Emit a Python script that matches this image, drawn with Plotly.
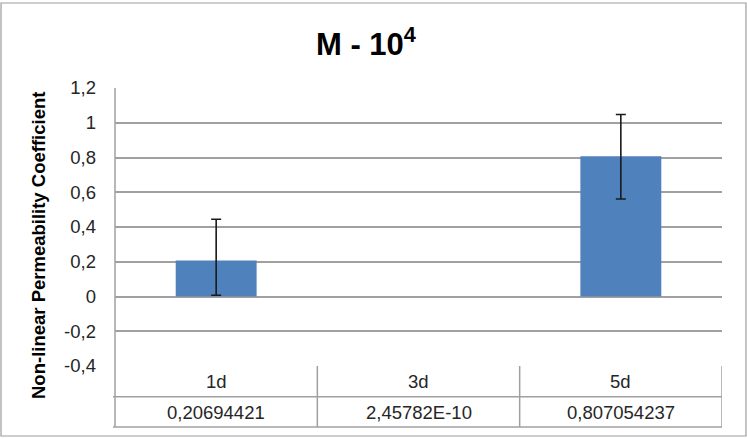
import plotly.graph_objects as go

categories = ["1d", "3d", "5d"]
values = [0.20694421, 2.45782e-10, 0.807054237]
err_plus = [0.238, None, 0.240]
err_minus = [0.200, None, 0.246]
tick_vals = [-0.4, -0.2, 0, 0.2, 0.4, 0.6, 0.8, 1.0, 1.2]
tick_text = ["-0,4", "-0,2", "0", "0,2", "0,4", "0,6", "0,8", "1", "1,2"]
title_text = "M - 10<sup>4</sup>"
y_title = "Non-linear Permeability Coefficient"


def excel_fmt(v):
    return f"{v:.9g}".upper().replace(".", ",")


FONT = "Liberation Sans"
GRID = "#a0a0a0"
TXT = 18.5

fig = go.Figure()
fig.add_trace(go.Bar(
    x=categories, y=values,
    marker=dict(color="#4F81BD", line=dict(width=0)),
    hoverinfo="skip",
))

# error bars only where defined
eb_idx = [i for i, e in enumerate(err_plus) if e is not None]
fig.add_trace(go.Scatter(
    x=[categories[i] for i in eb_idx], y=[values[i] for i in eb_idx],
    mode="none", hoverinfo="skip",
    error_y=dict(type="data", symmetric=False,
                 array=[err_plus[i] for i in eb_idx],
                 arrayminus=[err_minus[i] for i in eb_idx],
                 color="#1a1a1a", thickness=1.6, width=5),
))

shapes = []
# outer chart border
shapes.append(dict(type="rect", xref="paper", yref="paper", x0=-0.1878, x1=1.0395,
                   y0=-0.2518, y1=1.3058, line=dict(color="#9c9c9c", width=1.2)))
# vertical axis line extended through table
shapes.append(dict(type="line", xref="paper", yref="paper", x0=0, x1=0, y0=1, y1=-0.2194,
                   line=dict(color=GRID, width=1.5)))
# table horizontal lines
for yy in [-0.1104, -0.2194]:
    shapes.append(dict(type="line", xref="paper", yref="paper", x0=-0.0033, x1=1, y0=yy, y1=yy,
                       line=dict(color=GRID, width=1.5)))
# table column separators
n = len(categories)
for i in range(n):
    xb = i + 0.5
    shapes.append(dict(type="line", xref="x", yref="paper", x0=xb, x1=xb, y0=0, y1=-0.2194,
                       line=dict(color=GRID, width=1.5)))

annotations = []
for c, v in zip(categories, values):
    annotations.append(dict(x=c, y=-0.054, xref="x", yref="paper", text=c, showarrow=False,
                            font=dict(family=FONT, size=TXT, color="#262626"),
                            xanchor="center", yanchor="middle"))
    annotations.append(dict(x=c, y=-0.1655, xref="x", yref="paper", text=excel_fmt(v),
                            showarrow=False, font=dict(family=FONT, size=TXT, color="#262626"),
                            xanchor="center", yanchor="middle"))
annotations.append(dict(x=-0.1252, y=0.4317, xref="paper", yref="paper", text=f"<b>{y_title}</b>",
                        textangle=-90, showarrow=False,
                        font=dict(family=FONT, size=18.5, color="#000000"),
                        xanchor="center", yanchor="middle"))
annotations.append(dict(x=0.4135, y=1.165, xref="paper", yref="paper", text=f"<b>{title_text}</b>",
                        showarrow=False, font=dict(family=FONT, size=31, color="#000000"),
                        xanchor="center", yanchor="middle"))

fig.update_layout(
    width=747, height=439,
    margin=dict(l=115, r=25, t=88, b=73),
    paper_bgcolor="white", plot_bgcolor="white",
    bargap=0.6,
    showlegend=False,
    shapes=shapes,
    annotations=annotations,
    xaxis=dict(showticklabels=False, showgrid=False, zeroline=False, showline=False,
               range=[-0.5, n - 0.5], fixedrange=True),
    yaxis=dict(range=[-0.4, 1.2], tickvals=tick_vals, ticktext=tick_text,
               showgrid=True, gridcolor=GRID, gridwidth=1.5, zeroline=False,
               showline=False, ticks="", ticklabelstandoff=18,
               tickfont=dict(family=FONT, size=TXT, color="#262626")),
)

fig.write_html("out.html", config={"displayModeBar": False},
               post_script="document.body.style.margin='0';")
